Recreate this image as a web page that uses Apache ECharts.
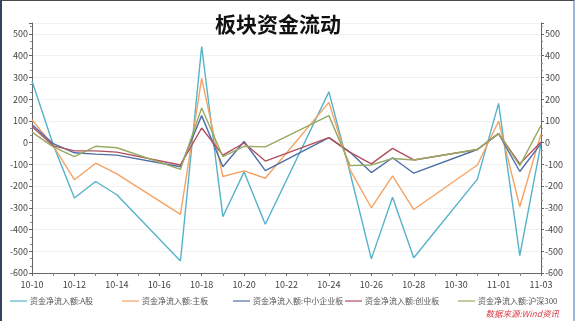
<!DOCTYPE html>
<html><head><meta charset="utf-8">
<script src="https://cdn.jsdelivr.net/npm/echarts@6/dist/echarts.min.js"></script>
<style>
html,body{margin:0;padding:0;background:#fff}
#c{position:absolute;left:0;top:0;width:575px;height:321px}
#frame{position:absolute;left:0;top:0;width:575px;height:321px;box-sizing:border-box;border-left:2px solid #34435e;border-top:1px solid #4a4a4a;border-right:2px solid #9fb6d6;pointer-events:none}
</style></head>
<body><div id="c"></div><div id="frame"></div>
<script>
// trading days (2016)
const dates = ['10-10','10-11','10-12','10-13','10-14','10-17','10-18','10-19','10-20','10-21','10-24','10-25','10-26','10-27','10-28','10-31','11-01','11-02','11-03'];
const xTickLabels = ['10-10','10-12','10-14','10-16','10-18','10-20','10-22','10-24','10-26','10-28','10-30','11-01','11-03'];
const seriesNames = ['资金净流入额:A股','资金净流入额:主板','资金净流入额:中小企业板','资金净流入额:创业板','资金净流入额:沪深300'];
const aShare  = [283, -10, -255, -179, -240, -545, 442, -341, -135, -376, 233, -140, -535, -252, -530, -168, 180, -520, -5];
const mainB   = [105, -15, -171, -95, -144, -330, 295, -156, -130, -164, 185, -126, -300, -153, -308, -103, 98, -295, 40];
const smeB    = [83, -5, -47, -53, -58, -111, 124, -111, 5, -129, 23, -45, -138, -70, -141, -32, 41, -133, -5];
const chinext = [74, -15, -38, -38, -44, -103, 67, -58, -2, -85, 23, -45, -98, -27, -80, -32, 41, -98, 3];
const hs300   = [48, -20, -65, -17, -24, -123, 159, -65, -17, -20, 124, -106, -103, -73, -80, -32, 41, -106, 79];
const yTicks = [-600,-500,-400,-300,-200,-100,0,100,200,300,400,500];

const colors = ['#55b3c9','#f5a263','#4f6ea8','#b0505c','#97aa62'];
const base = Date.UTC(2016, 9, 10);
function dayIndex(d){ const p=d.split('-'); return Math.round((Date.UTC(2016, +p[0]-1, +p[1]) - base)/86400000); }
const xs = dates.map(dayIndex);
const allData = [aShare, mainB, smeB, chinext, hs300];

const font = 'Noto Sans CJK SC';
const chart = echarts.init(document.getElementById('c'));
const yAxisCommon = {
  type:'value', min:-600, max:550, interval:100,
  axisLine:{show:true, lineStyle:{color:'#666', width:1}},
  axisTick:{show:true, length:3, lineStyle:{color:'#666'}},
  minorTick:{show:true, splitNumber:3, length:2, lineStyle:{color:'#888'}},
  axisLabel:{fontSize:9, color:'#444', fontFamily:font, margin:4,
    formatter: v => yTicks.indexOf(v) >= 0 ? String(v) : ''},
  splitLine:{show:false}
};
const legendLefts = [10,122,233,345,458];
chart.setOption({
  animation:false,
  textStyle:{fontFamily:font},
  title:{text:'板块资金流动', left:210, top:9, textStyle:{fontSize:21, fontWeight:'bold', color:'#111', fontFamily:font}},
  grid:{left:32, right:34, top:23, bottom:48},
  xAxis:{type:'value', min:0, max:24, interval:2,
    axisLine:{onZero:false, lineStyle:{color:'#666'}},
    axisTick:{length:3, lineStyle:{color:'#666'}},
    minorTick:{show:true, splitNumber:2, length:3, lineStyle:{color:'#888'}},
    axisLabel:{fontSize:9, color:'#444', fontFamily:font, margin:7, formatter: v => xTickLabels[v/2] || ''},
    splitLine:{show:false}
  },
  yAxis:[
    Object.assign({}, yAxisCommon, {position:'left', splitLine:{show:true, lineStyle:{color:'#f1f1f1'}}}),
    Object.assign({}, yAxisCommon, {position:'right'})
  ],
  legend: seriesNames.map((n,i)=>({data:[n], left:legendLefts[i], top:297, padding:0, icon:'rect',
    itemWidth:17, itemHeight:1.2, itemGap:0,
    textStyle:{fontSize:8, color:'#555', fontFamily:font, padding:[0,0,0,-2]}})),
  graphic:[{type:'text', right:16, top:310, style:{text:'数据来源:Wind资讯', fill:'#d8363f', font:'italic 8.5px "Noto Sans CJK SC"'}}],
  series: seriesNames.map((n,i)=>({
    name:n, type:'line', symbol:'none', yAxisIndex:0,
    lineStyle:{width:1.4, color:colors[i]}, itemStyle:{color:colors[i]},
    data: xs.map((x,j)=>[x, allData[i][j]])
  }))
});
</script>
</body></html>
